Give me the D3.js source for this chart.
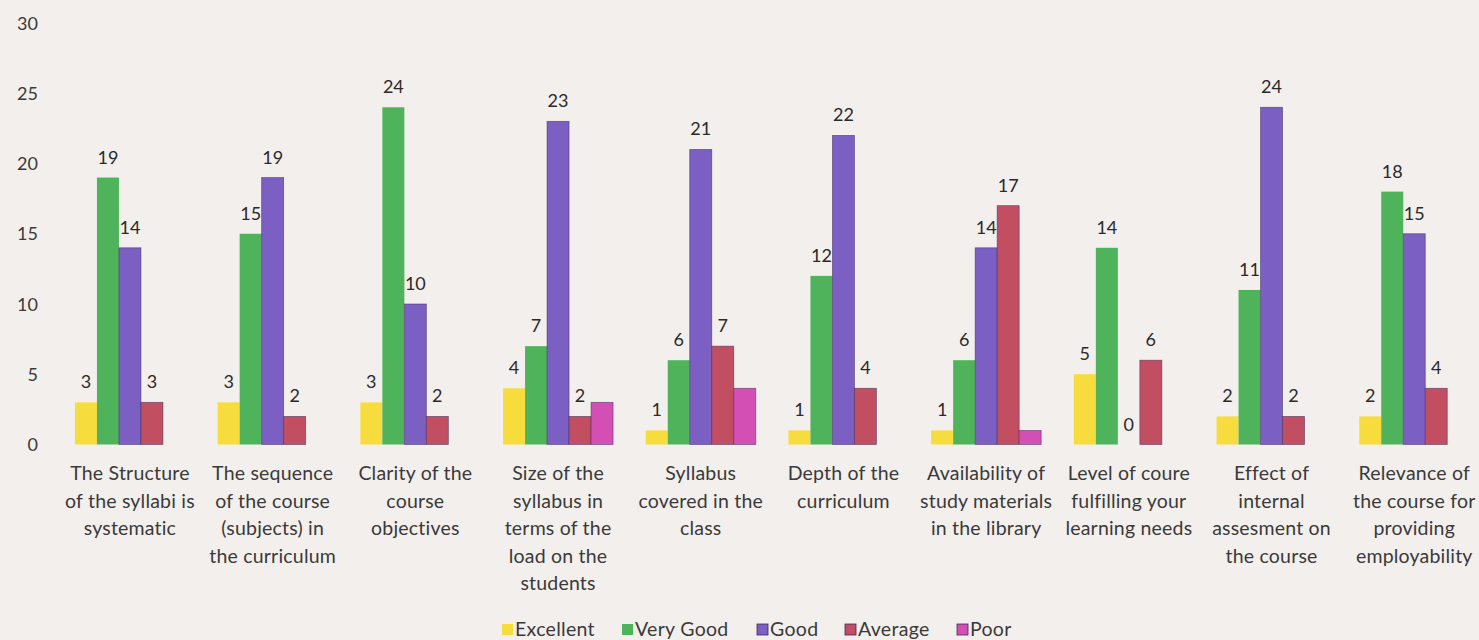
<!DOCTYPE html>
<html>
<head>
<meta charset="utf-8">
<script src="https://cdn.jsdelivr.net/npm/d3@7"></script>
<style>
  body { margin: 0; background: #f3efec; }
  svg { display: block; font-family: Lato, "Open Sans", sans-serif; }
</style>
</head>
<body>
<svg width="1479" height="640"></svg>
<script>
// categories (wrapped the way the picture shows them)
const categories = [
  ["The Structure", "of the syllabi is", "systematic"],
  ["The sequence", "of the course", "(subjects) in", "the curriculum"],
  ["Clarity of the", "course", "objectives"],
  ["Size of the", "syllabus in", "terms of the", "load on the", "students"],
  ["Syllabus", "covered in the", "class"],
  ["Depth of the", "curriculum"],
  ["Availability of", "study materials", "in the library"],
  ["Level of coure", "fulfilling your", "learning needs"],
  ["Effect of", "internal", "assesment on", "the course"],
  ["Relevance of", "the course for", "providing", "employability"]
];
const seriesNames = ["Excellent", "Very Good", "Good", "Average", "Poor"];
const excellent = [3, 3, 3, 4, 1, 1, 1, 5, 2, 2];
const veryGood  = [19, 15, 24, 7, 6, 12, 6, 14, 11, 18];
const good      = [14, 19, 10, 23, 21, 22, 14, 0, 24, 15];
const average   = [3, 2, 2, 2, 7, 4, 17, 6, 2, 4];
const poor      = [0, 0, 0, 3, 4, 0, 1, 0, 0, 0];
const yTicks = [0, 5, 10, 15, 20, 25, 30];

const seriesValues = [excellent, veryGood, good, average, poor];
const colors = ["#f7dc3e", "#4fb35c", "#7b5fc2", "#c24f61", "#d34fb4"];
const labelled = [true, true, true, true, false];

const svg = d3.select("svg");
const keys = categories.map((c, i) => i);

const x = d3.scaleBand().domain(keys).range([58.6, 1485.6]);
const xs = d3.scaleBand().domain(seriesNames)
  .range([x.bandwidth() / 2 - 55, x.bandwidth() / 2 + 55]);
const y = d3.scaleLinear().domain([0, 30]).range([444.5, 23]);

// y axis labels
svg.append("g")
  .selectAll("text")
  .data(yTicks)
  .enter()
  .append("text")
  .attr("x", 38)
  .attr("y", d => y(d) + 6.5)
  .attr("text-anchor", "end")
  .attr("font-size", "18px")
  .attr("fill", "#3a3a3a")
  .text(d => d);

// bars
const groups = svg.append("g")
  .selectAll("g")
  .data(keys)
  .enter()
  .append("g")
  .attr("transform", d => `translate(${x(d)},0)`);

seriesNames.forEach((name, s) => {
  groups.filter(i => seriesValues[s][i] > 0)
    .append("rect")
    .attr("x", xs(name))
    .attr("width", xs.bandwidth())
    .attr("y", i => y(seriesValues[s][i]))
    .attr("height", i => y(0) - y(seriesValues[s][i]))
    .attr("fill", colors[s])
    .attr("stroke", s >= 2 ? "#3a2a5a" : "none")
    .attr("stroke-width", 0.8)
    .attr("stroke-opacity", 0.6);

  if (labelled[s]) {
    groups.append("text")
      .attr("x", xs(name) + xs.bandwidth() / 2)
      .attr("y", i => y(seriesValues[s][i]) - 14)
      .attr("text-anchor", "middle")
      .attr("font-size", "18px")
      .attr("fill", "#2a2a2a")
      .text(i => seriesValues[s][i]);
  }
});

// category labels
groups.append("text")
  .attr("text-anchor", "middle")
  .attr("font-size", "19.5px")
  .attr("letter-spacing", "0.2px")
  .attr("fill", "#3a3a3a")
  .selectAll("tspan")
  .data(i => categories[i])
  .enter()
  .append("tspan")
  .attr("x", x.bandwidth() / 2)
  .attr("y", (d, j) => 480 + j * 27.5)
  .text(d => d);

// legend
const legendX = [502, 622, 757, 845, 957];
const legend = svg.append("g")
  .selectAll("g")
  .data(seriesNames)
  .enter()
  .append("g")
  .attr("transform", (d, i) => `translate(${legendX[i]},624)`);

legend.append("rect")
  .attr("width", 11)
  .attr("height", 11)
  .attr("fill", (d, i) => colors[i])
  .attr("stroke", (d, i) => i >= 2 ? "#3a2a5a" : "none")
  .attr("stroke-width", 0.8);

legend.append("text")
  .attr("x", 13)
  .attr("y", 12)
  .attr("font-size", "19.5px")
  .attr("letter-spacing", "0.3px")
  .attr("fill", "#3a3a3a")
  .text(d => d);
</script>
</body>
</html>
